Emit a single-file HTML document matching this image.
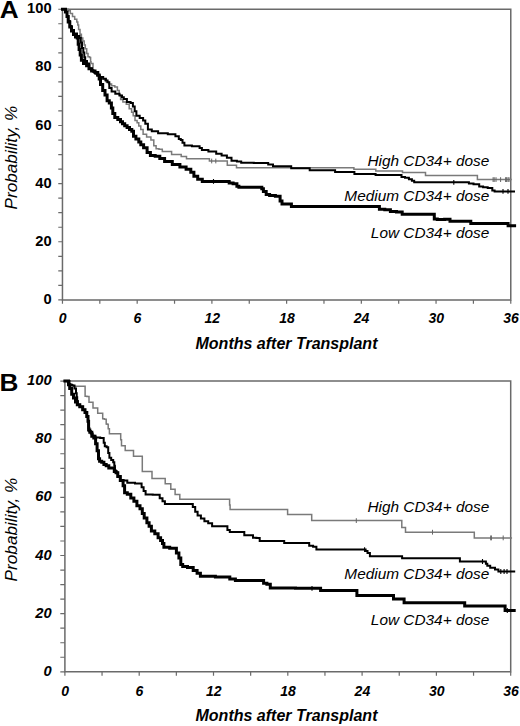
<!DOCTYPE html>
<html><head><meta charset="utf-8"><style>
html,body{margin:0;padding:0;background:#fff;}
svg{display:block;}
text{font-family:"Liberation Sans",sans-serif;fill:#000;}
</style></head><body>
<svg width="520" height="726" viewBox="0 0 520 726">
<rect width="520" height="726" fill="#fff"/>
<path d="M62.46,9.23H510.77V299.9H62.46Z" fill="none" stroke="#6a6a6a" stroke-width="1.5"/>
<path d="M58.26,299.90H62.46M58.26,285.37H62.46M58.26,270.83H62.46M58.26,256.30H62.46M58.26,241.77H62.46M58.26,227.23H62.46M58.26,212.70H62.46M58.26,198.17H62.46M58.26,183.63H62.46M58.26,169.10H62.46M58.26,154.56H62.46M58.26,140.03H62.46M58.26,125.50H62.46M58.26,110.96H62.46M58.26,96.43H62.46M58.26,81.90H62.46M58.26,67.36H62.46M58.26,52.83H62.46M58.26,38.30H62.46M58.26,23.76H62.46M58.26,9.23H62.46M62.46,299.9V303.70M99.82,299.9V303.70M137.18,299.9V303.70M174.54,299.9V303.70M211.90,299.9V303.70M249.26,299.9V303.70M286.62,299.9V303.70M323.97,299.9V303.70M361.33,299.9V303.70M398.69,299.9V303.70M436.05,299.9V303.70M473.41,299.9V303.70M510.77,299.9V303.70" fill="none" stroke="#6a6a6a" stroke-width="1.2"/>
<text transform="translate(51.6,303.90) scale(1.05,1)" text-anchor="end" style="font-weight:bold;font-size:14px">0</text>
<text transform="translate(51.6,245.77) scale(1.05,1)" text-anchor="end" style="font-weight:bold;font-size:14px">20</text>
<text transform="translate(51.6,187.63) scale(1.05,1)" text-anchor="end" style="font-weight:bold;font-size:14px">40</text>
<text transform="translate(51.6,129.50) scale(1.05,1)" text-anchor="end" style="font-weight:bold;font-size:14px">60</text>
<text transform="translate(51.6,71.36) scale(1.05,1)" text-anchor="end" style="font-weight:bold;font-size:14px">80</text>
<text transform="translate(51.6,13.23) scale(1.05,1)" text-anchor="end" style="font-weight:bold;font-size:14px">100</text>
<text x="62.76" y="323.30" text-anchor="middle" style="font-weight:bold;font-style:italic;font-size:14px">0</text>
<text x="137.48" y="323.30" text-anchor="middle" style="font-weight:bold;font-style:italic;font-size:14px">6</text>
<text x="212.20" y="323.30" text-anchor="middle" style="font-weight:bold;font-style:italic;font-size:14px">12</text>
<text x="286.92" y="323.30" text-anchor="middle" style="font-weight:bold;font-style:italic;font-size:14px">18</text>
<text x="361.63" y="323.30" text-anchor="middle" style="font-weight:bold;font-style:italic;font-size:14px">24</text>
<text x="436.35" y="323.30" text-anchor="middle" style="font-weight:bold;font-style:italic;font-size:14px">30</text>
<text x="511.07" y="323.30" text-anchor="middle" style="font-weight:bold;font-style:italic;font-size:14px">36</text>
<path d="M64.9,381.1H510.7V671.8H64.9Z" fill="none" stroke="#6a6a6a" stroke-width="1.5"/>
<path d="M60.30,671.80H64.9M60.30,657.26H64.9M60.30,642.73H64.9M60.30,628.19H64.9M60.30,613.66H64.9M60.30,599.12H64.9M60.30,584.59H64.9M60.30,570.05H64.9M60.30,555.52H64.9M60.30,540.99H64.9M60.30,526.45H64.9M60.30,511.91H64.9M60.30,497.38H64.9M60.30,482.85H64.9M60.30,468.31H64.9M60.30,453.77H64.9M60.30,439.24H64.9M60.30,424.71H64.9M60.30,410.17H64.9M60.30,395.64H64.9M60.30,381.10H64.9M64.90,671.8V675.80M102.05,671.8V675.80M139.20,671.8V675.80M176.35,671.8V675.80M213.50,671.8V675.80M250.65,671.8V675.80M287.80,671.8V675.80M324.95,671.8V675.80M362.10,671.8V675.80M399.25,671.8V675.80M436.40,671.8V675.80M473.55,671.8V675.80M510.70,671.8V675.80" fill="none" stroke="#6a6a6a" stroke-width="1.2"/>
<text transform="translate(51.6,675.80) scale(1.05,1)" text-anchor="end" style="font-weight:bold;font-style:italic;font-size:14px">0</text>
<text transform="translate(51.6,617.66) scale(1.05,1)" text-anchor="end" style="font-weight:bold;font-style:italic;font-size:14px">20</text>
<text transform="translate(51.6,559.52) scale(1.05,1)" text-anchor="end" style="font-weight:bold;font-style:italic;font-size:14px">40</text>
<text transform="translate(51.6,501.38) scale(1.05,1)" text-anchor="end" style="font-weight:bold;font-style:italic;font-size:14px">60</text>
<text transform="translate(51.6,443.24) scale(1.05,1)" text-anchor="end" style="font-weight:bold;font-style:italic;font-size:14px">80</text>
<text transform="translate(51.6,385.10) scale(1.05,1)" text-anchor="end" style="font-weight:bold;font-style:italic;font-size:14px">100</text>
<text x="65.20" y="695.80" text-anchor="middle" style="font-weight:bold;font-style:italic;font-size:14px">0</text>
<text x="139.50" y="695.80" text-anchor="middle" style="font-weight:bold;font-style:italic;font-size:14px">6</text>
<text x="213.80" y="695.80" text-anchor="middle" style="font-weight:bold;font-style:italic;font-size:14px">12</text>
<text x="288.10" y="695.80" text-anchor="middle" style="font-weight:bold;font-style:italic;font-size:14px">18</text>
<text x="362.40" y="695.80" text-anchor="middle" style="font-weight:bold;font-style:italic;font-size:14px">24</text>
<text x="436.70" y="695.80" text-anchor="middle" style="font-weight:bold;font-style:italic;font-size:14px">30</text>
<text x="511.00" y="695.80" text-anchor="middle" style="font-weight:bold;font-style:italic;font-size:14px">36</text>
<path d="M62.5,9.2 67.3,9.2 68.2,9.2 68.2,10.8 69.2,10.8 70.3,10.8 70.3,13.5 71.5,13.5 72.5,13.5 72.5,16.5 73.5,16.5 74.7,16.5 74.7,19.2 75.8,19.2 76.8,19.2 76.8,21.9 77.7,21.9 77.8,21.9 77.8,25.0 78.0,25.0 78.6,25.0 78.6,29.6 79.2,29.6 80.0,29.6 80.0,34.2 80.8,34.2 81.4,34.2 81.4,38.0 82.1,38.0 82.8,38.0 82.8,41.1 83.6,41.1 84.2,41.1 84.2,44.9 84.8,44.9 85.3,44.9 85.3,48.8 85.9,48.8 86.7,48.8 86.7,53.4 87.5,53.4 88.0,53.4 88.0,56.8 88.6,56.8 89.6,56.8 89.6,57.6 90.6,57.6 90.6,61.8 91.0,61.8 91.0,63.5 91.5,63.5 93.0,63.5 93.0,71.0 94.6,71.0 95.4,71.0 95.4,73.2 97.2,73.2 97.2,75.4 98.0,75.4 99.5,75.4 99.5,77.5 101.0,77.5 102.4,77.5 102.4,78.8 103.8,78.8 104.7,78.8 104.7,80.5 106.4,80.5 106.4,82.3 107.3,82.3 108.7,82.3 108.7,84.0 111.6,84.0 111.6,85.8 113.0,85.8 114.8,85.8 114.8,86.9 116.5,86.9 117.4,86.9 117.4,90.4 118.3,90.4 119.2,90.4 119.2,95.0 120.0,95.0 120.6,95.0 120.6,99.6 121.2,99.6 122.9,99.6 122.9,101.9 124.6,101.9 126.3,101.9 126.3,104.2 128.0,104.2 129.2,104.2 129.2,108.8 130.4,108.8 131.6,108.8 131.6,112.3 132.7,112.3 133.2,112.3 133.2,115.8 133.8,115.8 135.0,115.8 135.0,120.4 136.2,120.4 137.1,120.4 137.1,122.7 137.9,122.7 138.8,122.7 138.8,126.1 140.8,126.1 140.8,129.4 141.7,129.4 143.1,129.4 143.1,134.2 144.6,134.2 146.6,134.2 146.6,137.0 148.5,137.0 150.9,137.0 150.9,140.0 153.3,140.0 153.8,140.0 153.8,145.8 154.2,145.8 156.1,145.8 156.1,148.7 158.0,148.7 159.0,148.7 159.0,149.2 160.0,149.2 162.3,149.2 162.3,151.5 164.6,151.5 171.6,151.5 171.6,154.6 178.5,154.6 181.2,154.6 181.2,156.6 186.5,156.6 186.5,158.7 189.2,158.7 208.8,158.7 209.4,158.7 209.4,161.0 210.0,161.0 227.3,161.0 227.3,165.2 236.5,165.2 236.5,167.7 309.0,167.7 353.5,167.7 353.9,167.7 353.9,169.2 354.4,169.2 375.0,169.2 375.8,169.2 375.8,171.0 376.5,171.0 402.0,171.0 402.5,171.0 402.5,172.5 403.0,172.5 425.0,172.5 425.5,172.5 425.5,175.6 426.0,175.6 477.0,175.6 477.4,175.6 477.4,179.6 477.7,179.6 511.0,179.6" fill="none" stroke="#7a7a7a" stroke-width="1.5" stroke-linejoin="miter" stroke-linecap="square"/>
<path d="M62.5,9.2 65.0,9.2 65.8,9.2 65.8,12.0 66.5,12.0 67.1,12.0 67.1,16.5 67.7,16.5 68.3,16.5 68.3,21.0 69.0,21.0 69.8,21.0 69.8,26.0 70.5,26.0 71.5,26.0 71.5,30.0 72.5,30.0 74.0,30.0 74.0,33.5 75.5,33.5 77.0,33.5 77.0,36.0 78.5,36.0 79.5,36.0 79.5,38.0 80.5,38.0 80.8,38.0 80.8,42.6 81.2,42.6 82.0,42.6 82.0,48.0 82.8,48.0 83.3,48.0 83.3,52.6 83.9,52.6 84.3,52.6 84.3,57.2 84.7,57.2 85.2,57.2 85.2,61.1 85.8,61.1 87.0,61.1 87.0,63.4 88.2,63.4 89.1,63.4 89.1,68.5 90.0,68.5 91.2,68.5 91.2,70.2 93.4,70.2 93.4,71.9 94.6,71.9 95.4,71.9 95.4,73.7 97.2,73.7 97.2,75.4 98.0,75.4 99.8,75.4 99.8,77.1 101.5,77.1 103.2,77.1 103.2,78.8 105.0,78.8 105.9,78.8 105.9,80.5 107.6,80.5 107.6,82.3 108.5,82.3 109.3,82.3 109.3,88.0 110.2,88.0 111.6,88.0 111.6,91.5 113.0,91.5 115.3,91.5 115.3,93.8 117.7,93.8 119.5,93.8 119.5,95.6 121.2,95.6 122.0,95.6 122.0,97.3 123.8,97.3 123.8,99.0 124.6,99.0 126.9,99.0 126.9,101.9 129.2,101.9 130.6,101.9 130.6,103.0 132.0,103.0 132.9,103.0 132.9,106.5 133.8,106.5 134.7,106.5 134.7,111.2 135.6,111.2 136.4,111.2 136.4,115.8 137.3,115.8 139.7,115.8 139.7,118.0 142.0,118.0 143.1,118.0 143.1,120.4 144.2,120.4 145.3,120.4 145.3,123.8 146.5,123.8 147.9,123.8 147.9,129.4 149.4,129.4 151.8,129.4 151.8,131.3 154.2,131.3 158.1,131.3 158.1,133.3 162.0,133.3 167.8,133.3 167.8,134.2 173.5,134.2 175.4,134.2 175.4,136.2 177.3,136.2 178.8,136.2 178.8,139.0 180.2,139.0 180.8,139.0 180.8,140.0 181.5,140.0 182.5,140.0 182.5,142.7 184.4,142.7 184.4,145.4 185.4,145.4 191.9,145.4 191.9,146.2 198.5,146.2 199.6,146.2 199.6,148.1 201.9,148.1 201.9,150.0 203.0,150.0 208.4,150.0 208.4,151.5 213.8,151.5 216.2,151.5 216.2,153.8 218.5,153.8 221.6,153.8 221.6,155.4 224.6,155.4 226.9,155.4 226.9,157.7 229.2,157.7 231.5,157.7 231.5,160.8 233.8,160.8 236.9,160.8 236.9,161.5 240.0,161.5 241.2,161.5 241.2,162.7 242.3,162.7 253.8,162.7 253.8,163.0 265.4,163.0 268.2,163.0 268.2,164.6 271.0,164.6 273.0,164.6 273.0,166.2 275.0,166.2 290.4,166.2 291.2,166.2 291.2,168.3 292.0,168.3 309.2,168.3 309.7,168.3 309.7,170.2 310.2,170.2 334.2,170.2 335.1,170.2 335.1,172.1 336.0,172.1 353.5,172.1 354.4,172.1 354.4,174.0 355.4,174.0 374.6,174.0 375.6,174.0 375.6,175.0 376.5,175.0 400.0,175.0 401.5,175.0 401.5,177.0 403.0,177.0 405.0,177.0 405.0,177.7 407.0,177.7 408.9,177.7 408.9,179.2 410.8,179.2 411.9,179.2 411.9,180.8 413.0,180.8 414.2,180.8 414.2,182.3 415.4,182.3 467.7,182.3 468.9,182.3 468.9,183.5 470.0,183.5 473.5,183.5 473.5,184.2 477.0,184.2 479.2,184.2 479.2,186.5 481.5,186.5 483.1,186.5 483.1,187.3 484.6,187.3 487.7,187.3 487.7,188.0 490.8,188.0 492.3,188.0 492.3,190.4 493.8,190.4 494.6,190.4 494.6,191.5 495.4,191.5 514.0,191.5" fill="none" stroke="#000" stroke-width="2.0" stroke-linejoin="miter" stroke-linecap="square"/>
<path d="M62.5,9.2 64.5,9.2 65.5,9.2 65.5,12.0 66.5,12.0 67.0,12.0 67.0,16.5 67.5,16.5 68.2,16.5 68.2,22.0 69.0,22.0 69.8,22.0 69.8,27.0 70.5,27.0 71.5,27.0 71.5,31.0 72.5,31.0 73.5,31.0 73.5,34.5 74.5,34.5 75.5,34.5 75.5,37.0 76.5,37.0 77.2,37.0 77.2,38.0 77.8,38.0 78.2,38.0 78.2,44.2 78.5,44.2 79.1,44.2 79.1,49.5 79.7,49.5 80.2,49.5 80.2,54.9 80.8,54.9 81.4,54.9 81.4,60.3 82.0,60.3 83.5,60.3 83.5,63.4 85.0,63.4 86.6,63.4 86.6,65.7 88.2,65.7 89.0,65.7 89.0,68.8 89.7,68.8 91.6,68.8 91.6,71.1 93.5,71.1 95.0,71.1 95.0,72.6 96.6,72.6 97.8,72.6 97.8,74.9 98.9,74.9 99.2,74.9 99.2,79.0 99.5,79.0 100.5,79.0 100.5,84.6 101.5,84.6 102.7,84.6 102.7,90.4 103.8,90.4 105.0,90.4 105.0,95.0 106.2,95.0 107.1,95.0 107.1,100.8 107.9,100.8 109.3,100.8 109.3,103.0 110.8,103.0 111.4,103.0 111.4,108.0 112.0,108.0 112.8,108.0 112.8,113.5 113.5,113.5 114.8,113.5 114.8,117.5 116.0,117.5 117.8,117.5 117.8,119.5 119.5,119.5 120.5,119.5 120.5,121.7 122.5,121.7 122.5,123.8 123.5,123.8 124.7,123.8 124.7,125.7 127.1,125.7 127.1,127.5 128.3,127.5 129.5,127.5 129.5,129.4 131.8,129.4 131.8,131.3 133.0,131.3 133.5,131.3 133.5,136.2 134.0,136.2 135.9,136.2 135.9,139.0 137.9,139.0 138.8,139.0 138.8,141.9 140.8,141.9 140.8,144.8 141.7,144.8 143.6,144.8 143.6,147.7 145.6,147.7 147.1,147.7 147.1,152.5 148.5,152.5 150.4,152.5 150.4,155.4 152.3,155.4 155.2,155.4 155.2,156.3 158.0,156.3 159.8,156.3 159.8,158.5 161.5,158.5 164.6,158.5 164.6,161.5 167.7,161.5 172.3,161.5 172.3,164.6 176.9,164.6 179.9,164.6 179.9,166.9 183.0,166.9 186.1,166.9 186.1,169.2 189.2,169.2 190.8,169.2 190.8,172.3 192.3,172.3 193.9,172.3 193.9,176.2 195.4,176.2 197.7,176.2 197.7,179.2 200.0,179.2 202.3,179.2 202.3,181.5 204.6,181.5 227.7,181.5 229.2,181.5 229.2,183.0 230.8,183.0 233.1,183.0 233.1,183.8 235.4,183.8 236.9,183.8 236.9,186.2 238.5,186.2 238.9,186.2 238.9,187.3 239.4,187.3 261.5,187.3 261.8,187.3 261.8,188.7 262.0,188.7 263.4,188.7 263.4,191.5 264.8,191.5 266.2,191.5 266.2,194.4 267.7,194.4 269.6,194.4 269.6,195.4 271.5,195.4 275.4,195.4 275.4,196.3 279.2,196.3 280.1,196.3 280.1,201.0 281.0,201.0 282.0,201.0 282.0,204.0 283.0,204.0 290.8,204.0 291.4,204.0 291.4,206.5 292.0,206.5 378.5,206.5 379.4,206.5 379.4,209.2 380.4,209.2 384.8,209.2 384.8,209.8 389.2,209.8 390.4,209.8 390.4,211.4 391.5,211.4 396.5,211.4 396.5,212.1 401.5,212.1 402.2,212.1 402.2,214.2 403.0,214.2 434.0,214.2 434.3,214.2 434.3,219.0 434.6,219.0 437.3,219.0 437.3,219.6 440.0,219.6 444.6,219.6 444.6,219.2 449.2,219.2 450.0,219.2 450.0,221.2 450.8,221.2 470.0,221.2 470.8,221.2 470.8,223.5 471.5,223.5 507.7,223.5 508.1,223.5 508.1,225.8 508.5,225.8 514.6,225.8" fill="none" stroke="#000" stroke-width="3.0" stroke-linejoin="miter" stroke-linecap="square"/>
<path d="M211.7,158.6v4.8M215.8,158.6v4.8M493.1,177.2v4.8M494.2,177.2v4.8M496.0,177.2v4.8M500.6,177.2v4.8M505.6,177.2v4.8M506.6,177.2v4.8M508.0,177.2v4.8M509.0,177.2v4.8" fill="none" stroke="#666" stroke-width="1.0"/>
<path d="M453.8,179.9v4.8M503.0,188.9v4.8M508.0,188.9v4.8" fill="none" stroke="#000" stroke-width="1.1"/>
<path d="M213.5,179.0v4.8" fill="none" stroke="#000" stroke-width="1.1"/>
<path d="M64.9,381.1 66.0,381.1 66.0,381.5 67.0,381.5 68.3,381.5 68.3,383.7 69.7,383.7 70.8,383.7 70.8,385.0 72.0,385.0 73.2,385.0 73.2,386.3 74.5,386.3 85.1,386.3 85.1,396.3 86.9,396.3 86.9,396.5 88.8,396.5 89.0,396.5 89.0,402.2 89.3,402.2 92.8,402.2 93.0,402.2 93.0,408.0 93.2,408.0 97.5,408.0 97.7,408.0 97.7,413.2 97.8,413.2 102.4,413.2 102.7,413.2 102.7,418.8 103.0,418.8 104.4,418.8 104.4,419.3 105.8,419.3 106.2,419.3 106.2,424.0 106.5,424.0 107.1,424.0 107.1,424.2 107.7,424.2 108.2,424.2 108.2,428.8 108.8,428.8 109.4,428.8 109.4,433.7 110.0,433.7 120.4,433.7 120.7,433.7 120.7,439.8 121.0,439.8 121.5,439.8 121.5,445.8 122.1,445.8 125.0,445.8 125.2,445.8 125.2,450.5 125.5,450.5 133.3,450.5 133.5,450.5 133.5,456.3 133.7,456.3 142.3,456.3 142.3,471.5 151.8,471.5 152.0,471.5 152.0,478.5 152.2,478.5 164.8,478.5 165.2,478.5 165.2,483.8 165.5,483.8 170.5,483.8 170.8,483.8 170.8,489.2 171.0,489.2 174.8,489.2 175.1,489.2 175.1,494.5 175.3,494.5 179.5,494.5 179.8,494.5 179.8,499.2 180.0,499.2 229.3,499.2 229.6,499.2 229.6,505.0 229.8,505.0 230.1,505.0 230.1,509.5 230.3,509.5 287.6,509.5 287.6,514.6 311.7,514.6 311.7,520.6 401.6,520.6 401.8,520.6 401.8,527.4 402.0,527.4 405.5,527.4 405.5,532.2 474.3,532.2 474.3,537.9 511.3,537.9" fill="none" stroke="#7a7a7a" stroke-width="1.5" stroke-linejoin="miter" stroke-linecap="square"/>
<path d="M64.9,381.1 68.3,381.1 69.5,381.1 69.5,384.7 70.7,384.7 72.1,384.7 72.1,385.6 73.5,385.6 74.5,385.6 74.5,388.5 75.5,388.5 76.0,388.5 76.0,393.3 76.4,393.3 76.7,393.3 76.7,397.2 76.9,397.2 77.2,397.2 77.2,401.0 77.4,401.0 77.8,401.0 77.8,404.8 78.3,404.8 79.8,404.8 79.8,406.8 81.2,406.8 82.7,406.8 82.7,409.7 84.1,409.7 85.0,409.7 85.0,412.5 86.0,412.5 86.8,412.5 86.8,416.4 87.5,416.4 88.0,416.4 88.0,421.2 88.4,421.2 88.6,421.2 88.6,428.0 88.7,428.0 89.3,428.0 89.3,431.0 90.0,431.0 90.8,431.0 90.8,433.5 91.5,433.5 92.7,433.5 92.7,435.8 93.8,435.8 95.5,435.8 95.5,437.5 97.3,437.5 100.2,437.5 100.2,438.1 103.1,438.1 103.7,438.1 103.7,442.7 104.2,442.7 104.8,442.7 104.8,446.2 105.4,446.2 106.6,446.2 106.6,447.3 107.7,447.3 108.2,447.3 108.2,453.1 108.8,453.1 109.4,453.1 109.4,457.7 110.0,457.7 111.2,457.7 111.2,460.0 112.3,460.0 113.2,460.0 113.2,462.3 114.0,462.3 114.3,462.3 114.3,465.8 114.6,465.8 114.9,465.8 114.9,470.4 115.2,470.4 115.8,470.4 115.8,472.5 116.5,472.5 117.7,472.5 117.7,476.5 118.8,476.5 120.3,476.5 120.3,480.4 121.9,480.4 123.5,480.4 123.5,480.6 125.0,480.6 127.3,480.6 127.3,482.7 129.6,482.7 135.0,482.7 135.0,483.5 140.4,483.5 141.6,483.5 141.6,487.3 142.7,487.3 143.6,487.3 143.6,490.9 145.6,490.9 145.6,494.5 146.5,494.5 152.7,494.5 152.7,494.8 158.8,494.8 159.7,494.8 159.7,498.3 160.6,498.3 162.5,498.3 162.5,501.2 164.4,501.2 164.9,501.2 164.9,504.0 165.4,504.0 191.3,504.0 192.8,504.0 192.8,506.9 194.2,506.9 195.2,506.9 195.2,511.7 196.2,511.7 197.6,511.7 197.6,515.6 199.0,515.6 200.9,515.6 200.9,518.5 202.9,518.5 204.4,518.5 204.4,521.3 205.8,521.3 208.2,521.3 208.2,523.3 210.6,523.3 212.1,523.3 212.1,526.2 213.5,526.2 226.0,526.2 227.4,526.2 227.4,530.0 228.8,530.0 229.8,530.0 229.8,532.0 230.8,532.0 243.8,532.0 244.3,532.0 244.3,535.2 244.8,535.2 252.5,535.2 253.0,535.2 253.0,537.7 253.5,537.7 256.4,537.7 256.4,538.1 259.2,538.1 259.7,538.1 259.7,541.0 260.2,541.0 283.3,541.0 284.2,541.0 284.2,542.9 285.2,542.9 308.3,542.9 309.2,542.9 309.2,545.8 310.2,545.8 313.1,545.8 313.1,546.7 316.0,546.7 316.4,546.7 316.4,549.6 316.9,549.6 364.6,549.6 365.6,549.6 365.6,551.0 366.5,551.0 367.5,551.0 367.5,552.9 368.5,552.9 369.9,552.9 369.9,556.2 371.3,556.2 401.2,556.2 402.1,556.2 402.1,558.3 403.0,558.3 459.4,558.3 459.9,558.3 459.9,561.5 460.4,561.5 485.4,561.5 485.9,561.5 485.9,563.8 486.3,563.8 487.3,563.8 487.3,565.8 488.3,565.8 490.2,565.8 490.2,567.7 492.1,567.7 495.0,567.7 495.0,569.6 497.9,569.6 498.4,569.6 498.4,571.5 498.8,571.5 514.2,571.5" fill="none" stroke="#000" stroke-width="2.0" stroke-linejoin="miter" stroke-linecap="square"/>
<path d="M64.9,381.1 68.3,381.1 68.5,381.1 68.5,384.7 68.7,384.7 69.7,384.7 69.7,388.5 70.7,388.5 71.7,388.5 71.7,394.3 72.6,394.3 73.5,394.3 73.5,398.1 74.5,398.1 75.5,398.1 75.5,402.0 76.4,402.0 77.3,402.0 77.3,404.8 78.3,404.8 79.8,404.8 79.8,406.8 81.2,406.8 82.7,406.8 82.7,409.7 84.1,409.7 85.0,409.7 85.0,412.5 86.0,412.5 86.8,412.5 86.8,416.4 87.5,416.4 88.0,416.4 88.0,421.2 88.4,421.2 88.6,421.2 88.6,430.0 88.7,430.0 89.8,430.0 89.8,432.3 91.0,432.3 91.8,432.3 91.8,436.3 92.7,436.3 93.8,436.3 93.8,438.1 95.0,438.1 95.6,438.1 95.6,443.8 96.2,443.8 97.1,443.8 97.1,450.8 97.9,450.8 98.5,450.8 98.5,458.8 99.0,458.8 99.6,458.8 99.6,461.2 100.2,461.2 101.7,461.2 101.7,462.3 103.1,462.3 103.9,462.3 103.9,464.6 104.8,464.6 106.2,464.6 106.2,465.8 107.7,465.8 108.8,465.8 108.8,468.1 110.0,468.1 113.5,468.1 114.3,468.1 114.3,471.5 115.2,471.5 116.1,471.5 116.1,472.7 116.9,472.7 117.8,472.7 117.8,476.5 118.8,476.5 120.3,476.5 120.3,480.4 121.9,480.4 123.1,480.4 123.1,485.8 124.2,485.8 124.6,485.8 124.6,492.7 125.0,492.7 127.3,492.7 127.3,494.2 129.6,494.2 130.8,494.2 130.8,498.1 131.9,498.1 133.9,498.1 133.9,501.2 135.8,501.2 136.9,501.2 136.9,505.8 138.1,505.8 140.0,505.8 140.0,508.8 141.9,508.8 142.3,508.8 142.3,513.5 142.7,513.5 144.2,513.5 144.2,518.1 145.8,518.1 146.9,518.1 146.9,522.7 148.1,522.7 149.1,522.7 149.1,526.2 150.0,526.2 151.4,526.2 151.4,531.0 152.9,531.0 154.8,531.0 154.8,533.8 156.7,533.8 158.1,533.8 158.1,537.7 159.6,537.7 160.6,537.7 160.6,540.6 162.5,540.6 162.5,543.5 163.5,543.5 163.9,543.5 163.9,547.3 164.4,547.3 169.7,547.3 169.7,548.3 175.0,548.3 176.4,548.3 176.4,553.1 177.9,553.1 178.9,553.1 178.9,557.9 179.8,557.9 180.8,557.9 180.8,564.6 181.7,564.6 182.7,564.6 182.7,566.5 183.7,566.5 187.5,566.5 187.5,567.5 191.3,567.5 193.2,567.5 193.2,570.4 195.2,570.4 197.1,570.4 197.1,573.3 199.0,573.3 200.4,573.3 200.4,576.2 201.9,576.2 215.4,576.2 215.4,577.1 228.8,577.1 229.8,577.1 229.8,579.0 230.8,579.0 235.4,579.0 235.4,580.4 240.0,580.4 263.1,580.4 263.6,580.4 263.6,583.3 264.0,583.3 266.9,583.3 266.9,584.2 269.8,584.2 270.3,584.2 270.3,588.1 270.8,588.1 295.5,588.1 295.5,588.3 320.2,588.3 320.6,588.3 320.6,590.5 321.0,590.5 356.5,590.5 356.9,590.5 356.9,595.6 357.4,595.6 392.9,595.6 393.5,595.6 393.5,599.1 394.2,599.1 403.7,599.1 404.1,599.1 404.1,602.8 404.5,602.8 464.2,602.8 464.7,602.8 464.7,606.0 465.2,606.0 504.6,606.0 505.1,606.0 505.1,610.4 505.6,610.4 514.2,610.4" fill="none" stroke="#000" stroke-width="3.0" stroke-linejoin="miter" stroke-linecap="square"/>
<path d="M356.3,518.2v4.8M432.5,529.8v4.8M490.7,535.5v4.8M491.4,535.5v4.8M503.2,535.5v4.8" fill="none" stroke="#666" stroke-width="1.0"/>
<path d="M364.6,547.2v4.8M482.5,559.1v4.8M500.8,569.1v4.8M504.1,569.1v4.8M507.0,569.1v4.8" fill="none" stroke="#000" stroke-width="1.1"/>
<path d="M312.0,585.9v4.8M507.3,608.1v4.8" fill="none" stroke="#000" stroke-width="1.1"/>
<text transform="translate(-0.2,18.1) scale(1.07,1)" style="font-weight:bold;font-size:24.5px">A</text>
<text transform="translate(-0.6,391.3) scale(1.07,1)" style="font-weight:bold;font-size:24.5px">B</text>
<text transform="translate(17.2,157.6) rotate(-90)" text-anchor="middle" style="font-style:italic;font-size:17.2px">Probability, %</text>
<text x="286.5" y="348.5" text-anchor="middle" style="font-weight:bold;font-style:italic;font-size:16px">Months after Transplant</text>
<text transform="translate(17.2,529.5) rotate(-90)" text-anchor="middle" style="font-style:italic;font-size:17.2px">Probability, %</text>
<text x="286.5" y="720.6" text-anchor="middle" style="font-weight:bold;font-style:italic;font-size:16px">Months after Transplant</text>
<text transform="translate(489.3,165.5) scale(1.1,1)" text-anchor="end" style="font-style:italic;font-size:14px">High CD34+ dose</text>
<text transform="translate(489.3,201.4) scale(1.1,1)" text-anchor="end" style="font-style:italic;font-size:14px">Medium CD34+ dose</text>
<text transform="translate(489.3,237.7) scale(1.1,1)" text-anchor="end" style="font-style:italic;font-size:14px">Low CD34+ dose</text>
<text transform="translate(489.3,512.2) scale(1.1,1)" text-anchor="end" style="font-style:italic;font-size:14px">High CD34+ dose</text>
<text transform="translate(489.3,579.2) scale(1.1,1)" text-anchor="end" style="font-style:italic;font-size:14px">Medium CD34+ dose</text>
<text transform="translate(489.3,625.4) scale(1.1,1)" text-anchor="end" style="font-style:italic;font-size:14px">Low CD34+ dose</text>
</svg>
</body></html>
